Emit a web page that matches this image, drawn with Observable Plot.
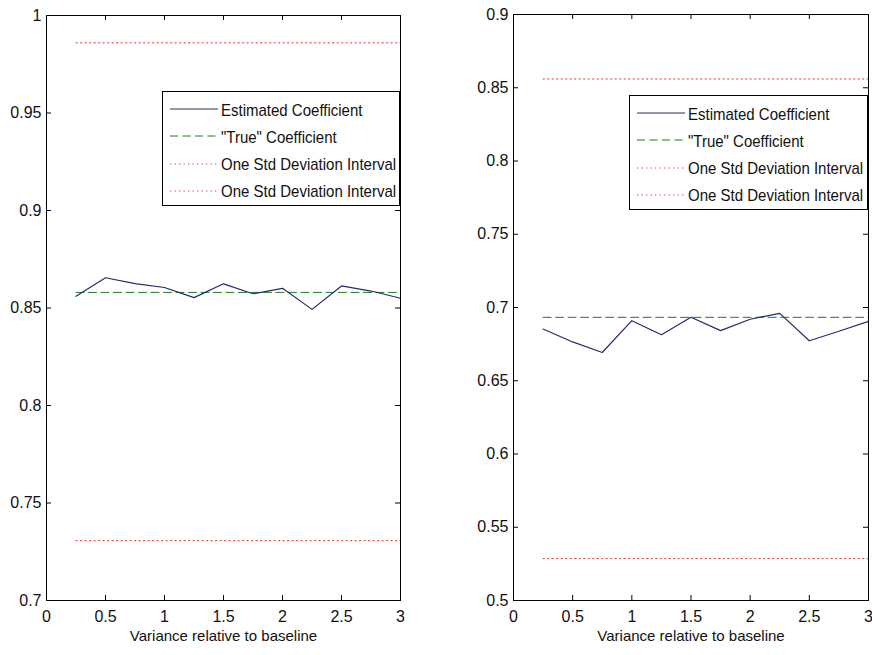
<!DOCTYPE html>
<html><head><meta charset="utf-8">
<script src="https://cdn.jsdelivr.net/npm/d3@7"></script>
<script src="https://cdn.jsdelivr.net/npm/@observablehq/plot@0.6"></script>
<style>
html,body{margin:0;padding:0;background:#fff}
body{width:872px;height:655px;position:relative;overflow:hidden;font-family:"Liberation Sans",Arial,sans-serif;color:#111}
.panel{position:absolute;top:0}
.legend{position:absolute;border:1px solid #000;background:#fff;box-sizing:border-box}
.row{position:absolute;left:0;height:20px;display:flex;align-items:center;font-size:15px;white-space:nowrap}
.row svg{display:block;margin-left:7px;margin-right:3px}
.row span{display:inline-block;transform:scaleY(1.12);transform-origin:center}
</style></head><body>
<div id="left" class="panel" style="left:0"></div>
<div id="right" class="panel" style="left:436px"></div>
<script>
// ---- data ----
const variance = [0.25, 0.5, 0.75, 1.0, 1.25, 1.5, 1.75, 2.0, 2.25, 2.5, 2.75, 3.0];
const leftEstimated = [0.856, 0.8655, 0.8625, 0.8605, 0.8553, 0.8624, 0.8573, 0.8601, 0.8493, 0.8613, 0.8587, 0.855];
const rightEstimated = [0.6853, 0.6765, 0.6693, 0.691, 0.6814, 0.6933, 0.6842, 0.692, 0.696, 0.6773, 0.6838, 0.6905];
const leftTrue = 0.858;
const rightTrue = 0.6933;
const leftUpper = 0.986;
const leftLower = 0.7307;
const rightUpper = 0.856;
const rightLower = 0.5286;
const xTicks = [0, 0.5, 1, 1.5, 2, 2.5, 3];
const xTickLabels = ["0", "0.5", "1", "1.5", "2", "2.5", "3"];
const leftYTicks = [0.7, 0.75, 0.8, 0.85, 0.9, 0.95, 1];
const leftYTickLabels = ["0.7", "0.75", "0.8", "0.85", "0.9", "0.95", "1"];
const rightYTicks = [0.5, 0.55, 0.6, 0.65, 0.7, 0.75, 0.8, 0.85, 0.9];
const rightYTickLabels = ["0.5", "0.55", "0.6", "0.65", "0.7", "0.75", "0.8", "0.85", "0.9"];
const xLabel = "Variance relative to baseline";
const legendLabels = ["Estimated Coefficient", "\"True\" Coefficient", "One Std Deviation Interval", "One Std Deviation Interval"];

// ---- styles ----
const COL_EST = "#242c6c";
const COL_TRUE = "#1f7a1f";
const COL_STD = "#e23a3a";
const DASH_TRUE = "8,4.5";
const DASH_STD = "1.3,3.2";
const legendStyles = [
  {stroke: COL_EST, dash: null},
  {stroke: COL_TRUE, dash: DASH_TRUE},
  {stroke: COL_STD, dash: DASH_STD},
  {stroke: COL_STD, dash: DASH_STD}
];

function makePanel(cfg) {
  const W = 436, H = 655;
  const plotW = W - cfg.ml - cfg.mr, plotH = H - cfg.mt - cfg.mb;
  const tk = 5;
  const est = variance.map((x, i) => ({x, y: cfg.est[i]}));
  const flat = v => variance.map(x => ({x, y: v}));
  return Plot.plot({
    width: W, height: H,
    marginLeft: cfg.ml, marginRight: cfg.mr, marginTop: cfg.mt, marginBottom: cfg.mb,
    style: {fontFamily: "'Liberation Sans', Arial, sans-serif", fontSize: "16px", background: "transparent", color: "#111", overflow: "visible"},
    x: {domain: [0, 3]},
    y: {domain: cfg.yDomain},
    marks: [
      Plot.lineY(flat(cfg.upper), {x: "x", y: "y", stroke: COL_STD, strokeDasharray: DASH_STD, strokeWidth: 1}),
      Plot.lineY(flat(cfg.lower), {x: "x", y: "y", stroke: COL_STD, strokeDasharray: DASH_STD, strokeWidth: 1}),
      Plot.lineY(flat(cfg.trueV), {x: "x", y: "y", stroke: COL_TRUE, strokeDasharray: DASH_TRUE, strokeWidth: 1}),
      Plot.lineY(est, {x: "x", y: "y", stroke: COL_EST, strokeWidth: 1.2}),
      Plot.tickY(cfg.yTicks, {y: d => d, insetRight: plotW - tk, stroke: "#000"}),
      Plot.tickY(cfg.yTicks, {y: d => d, insetLeft: plotW - tk, stroke: "#000"}),
      Plot.tickX(xTicks, {x: d => d, insetTop: plotH - tk, stroke: "#000"}),
      Plot.tickX(xTicks, {x: d => d, insetBottom: plotH - tk, stroke: "#000"}),
      Plot.axisY(cfg.yTicks, {tickSize: 0, tickPadding: 5, fontSize: 16, label: null,
        tickFormat: d => cfg.yLabels[cfg.yTicks.indexOf(d)]}),
      Plot.axisX(xTicks, {tickSize: 0, tickPadding: 10, fontSize: 16, label: null,
        tickFormat: d => xTickLabels[xTicks.indexOf(d)]}),
      Plot.text([xLabel], {frameAnchor: "bottom", dy: 40, fontSize: 15, fill: "#111"}),
      Plot.frame({stroke: "#000", strokeWidth: 1})
    ]
  });
}

document.getElementById("left").append(makePanel({
  ml: 46, mr: 36, mt: 15, mb: 55, yDomain: [0.7, 1],
  est: leftEstimated, trueV: leftTrue, upper: leftUpper, lower: leftLower,
  yTicks: leftYTicks, yLabels: leftYTickLabels
}));
document.getElementById("right").append(makePanel({
  ml: 77, mr: 4, mt: 14, mb: 55, yDomain: [0.5, 0.9],
  est: rightEstimated, trueV: rightTrue, upper: rightUpper, lower: rightLower,
  yTicks: rightYTicks, yLabels: rightYTickLabels
}));

function makeLegend(left, top, width, height) {
  const box = document.createElement("div");
  box.className = "legend";
  Object.assign(box.style, {left: left + "px", top: top + "px", width: width + "px", height: height + "px"});
  legendLabels.forEach((lab, i) => {
    const row = document.createElement("div");
    row.className = "row";
    row.style.top = (7 + i * 27.3) + "px";
    const s = legendStyles[i];
    row.innerHTML = `<svg width="48" height="10"><line x1="0" y1="5" x2="48" y2="5" stroke="${s.stroke}" stroke-width="1"${s.dash ? ` stroke-dasharray="${s.dash}"` : ""}/></svg><span>${lab.replace(/"/g, "&quot;")}</span>`;
    box.append(row);
  });
  document.body.append(box);
}
makeLegend(162, 91, 238, 115);
makeLegend(629, 95, 239, 115);
</script>
</body></html>
